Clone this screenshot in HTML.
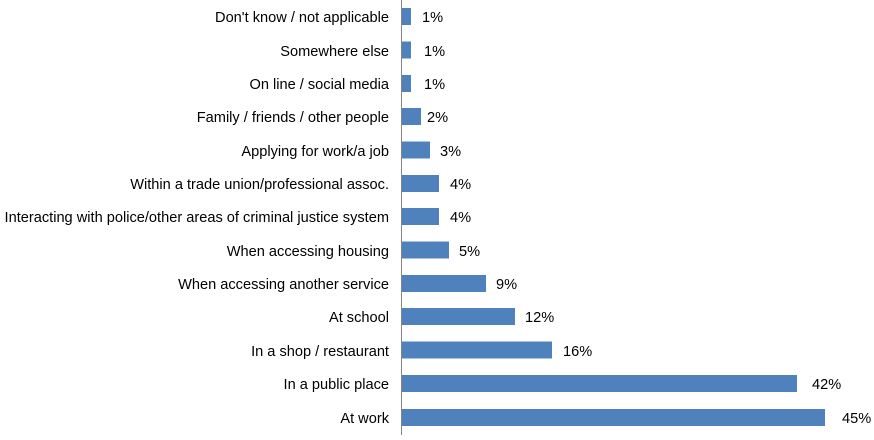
<!DOCTYPE html>
<html><head><style>
html,body{margin:0;padding:0;background:#fff;}
svg text{font-family:"Liberation Sans",Arial,sans-serif;font-size:14.6px;fill:#000;}
</style></head><body>
<svg width="874" height="435" xmlns="http://www.w3.org/2000/svg">
<line x1="401.5" y1="0" x2="401.5" y2="435" stroke="#868686" stroke-width="1"/>
<g text-anchor="end">
<text x="389" y="22">Don't know / not applicable</text>
<text x="389" y="56">Somewhere else</text>
<text x="389" y="89">On line / social media</text>
<text x="389" y="122">Family / friends / other people</text>
<text x="389" y="156">Applying for work/a job</text>
<text x="389" y="189">Within a trade union/professional assoc.</text>
<text x="389" y="222">Interacting with police/other areas of criminal justice system</text>
<text x="389" y="256">When accessing housing</text>
<text x="389" y="289">When accessing another service</text>
<text x="389" y="322">At school</text>
<text x="389" y="356">In a shop / restaurant</text>
<text x="389" y="389">In a public place</text>
<text x="389" y="423">At work</text>
</g>
<g fill="#4f81bd">
<rect x="402" y="8" width="9" height="17"/>
<rect x="402" y="41.5" width="9" height="17"/>
<rect x="402" y="75" width="9" height="17"/>
<rect x="402" y="108" width="19" height="17"/>
<rect x="402" y="141.5" width="28" height="17"/>
<rect x="402" y="175" width="37" height="17"/>
<rect x="402" y="208" width="37" height="17"/>
<rect x="402" y="241.5" width="47" height="17"/>
<rect x="402" y="275" width="84" height="17"/>
<rect x="402" y="308" width="113" height="17"/>
<rect x="402" y="341.5" width="150" height="17"/>
<rect x="402" y="375" width="395" height="17"/>
<rect x="402" y="409" width="423" height="17"/>
</g>
<text x="422" y="22">1%</text>
<text x="424" y="56">1%</text>
<text x="424" y="89">1%</text>
<text x="427" y="122">2%</text>
<text x="440" y="156">3%</text>
<text x="450" y="189">4%</text>
<text x="450" y="222">4%</text>
<text x="459" y="256">5%</text>
<text x="496" y="289">9%</text>
<text x="525" y="322">12%</text>
<text x="563" y="356">16%</text>
<text x="812" y="389">42%</text>
<text x="842" y="423">45%</text>
</svg>
</body></html>
